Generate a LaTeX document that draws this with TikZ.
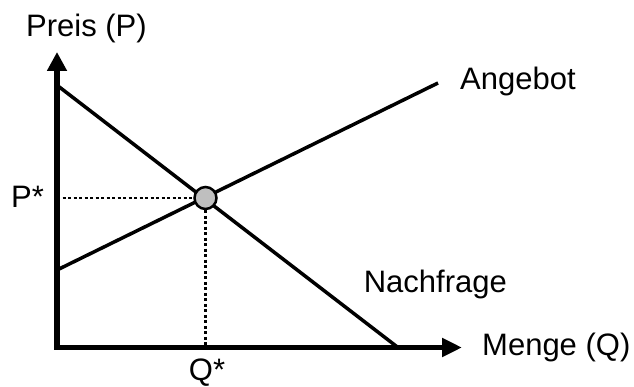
\documentclass[tikz,border=0pt]{standalone}
\usepackage{fontspec}
\setmainfont{Liberation Sans}
\usetikzlibrary{arrows.meta}
\begin{document}
\begin{tikzpicture}[x=1pt,y=-1pt,
  lbl/.style={inner sep=0pt,font=\fontsize{31}{37}\selectfont},
  axis/.style={line width=5.5pt,line join=miter},
  curve/.style={line width=3.5pt},
  guide/.style={line width=2.2pt,dash pattern=on 3pt off 2.5pt},
  eqpt/.style={circle,draw=black,line width=2.5pt,fill=black!25,minimum size=22pt,inner sep=0pt}]
\useasboundingbox (0,0) rectangle (634,387);
\coordinate (ytip) at (57,52);
\coordinate (origin) at (57,347.5);
\coordinate (xtip) at (462,347.5);
\coordinate (dtop) at (58,86);
\coordinate (dbot) at (398,347.5);
\coordinate (slow) at (55,271);
\coordinate (shigh) at (438,83);
\coordinate (pstar) at (57,198);
\coordinate (qstar) at (205.5,347.5);
\draw[axis,{Triangle[length=19pt,width=19pt]}-{Triangle[length=20pt,width=18pt]}] (ytip) -- (origin) -- (xtip);
\draw[curve] (dtop) -- (dbot);
\draw[curve] (slow) -- (shigh);
\node[eqpt] (eq) at (205.5,198) {};
\draw[guide] (pstar) -- (eq);
\draw[guide] (eq) -- (qstar);
\node[lbl,anchor=base west] (preis) at (26,37) {Preis (P)};
\node[lbl,anchor=base west] (angebot) at (460,90) {Angebot};
\node[lbl,anchor=base east] (nachfrage) at (507,292) {Nachfrage};
\node[lbl,anchor=base west] (menge) at (482,355) {Menge (Q)};
\node[lbl,anchor=base west] (plbl) at (11,208) {P*};
\node[lbl,anchor=base] (qlbl) at (207,380) {Q*};
\end{tikzpicture}
\end{document}
